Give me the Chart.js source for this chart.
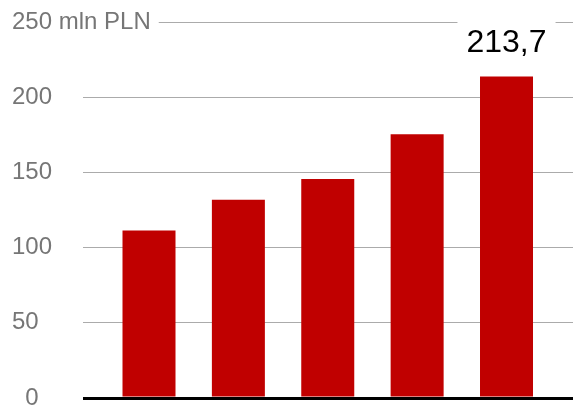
<!DOCTYPE html>
<html>
<head>
<meta charset="utf-8">
<script src="https://cdn.jsdelivr.net/npm/chart.js@4/dist/chart.umd.min.js"></script>
<style>
  html, body { margin: 0; padding: 0; background: #fff; }
  #wrap { width: 573px; height: 407px; }
</style>
</head>
<body>
<div id="wrap"><canvas id="myChart"></canvas></div>
<script>
// values (mln PLN)
let values = [111.3, 131.8, 145.6, 175.4, 213.7];
let yTicks = [0, 50, 100, 150, 200, 250];
let unit = "mln PLN";
let lastLabel = "213,7";

let points = values.map((v, i) => ({ x: i, y: v }));

// label above the last bar, with white box over the grid line
let lastBarLabel = {
  id: "lastBarLabel",
  afterDatasetsDraw(chart) {
    let meta = chart.getDatasetMeta(0);
    let bar = meta.data[meta.data.length - 1];
    let ctx = chart.ctx;
    ctx.save();
    ctx.font = "32px 'Liberation Sans', Arial, sans-serif";
    let w = ctx.measureText(lastLabel).width;
    let base = bar.y - 25;
    ctx.fillStyle = "#FFFFFF";
    ctx.fillRect(bar.x - w / 2 - 9, base - 34, w + 18, 40);
    ctx.fillStyle = "#000000";
    ctx.textAlign = "center";
    ctx.textBaseline = "alphabetic";
    ctx.fillText(lastLabel, bar.x, base);
    ctx.restore();
  },
};

let ctx = document.getElementById("myChart").getContext("2d");
let myChart = new Chart(ctx, {
  type: "bar",
  data: {
    datasets: [
      {
        data: points,
        backgroundColor: "#C00000",
        borderWidth: 0,
        categoryPercentage: 1,
        barPercentage: 0.593,
      },
    ],
  },
  options: {
    responsive: true,
    maintainAspectRatio: false,
    animation: false,
    layout: { padding: { left: 12, top: 22, right: 0, bottom: 9 } },
    plugins: {
      legend: { display: false },
      tooltip: { enabled: false },
    },
    scales: {
      x: {
        type: "linear",
        display: false,
        offset: false,
        min: -0.7385,
        max: 4.744,
        afterBuildTicks: (scale) => {
          scale.ticks = values.map((v, i) => ({ value: i }));
        },
      },
      y: {
        min: 0,
        max: 250,
        afterBuildTicks: (scale) => {
          scale.ticks = yTicks.map((v) => ({ value: v }));
        },
        afterFit: (scale) => {
          scale.width = 71;
          scale.paddingTop = 0;
          scale.paddingBottom = 0;
        },
        border: { display: false },
        grid: {
          drawTicks: false,
          color: (c) => (c.tick && c.tick.value === 0 ? "#000000" : "#ABABAB"),
          lineWidth: (c) => (c.tick && c.tick.value === 0 ? 3 : 1),
        },
        ticks: {
          mirror: true,
          padding: -71,
          color: "#767676",
          font: { family: "'Liberation Sans', Arial, sans-serif", size: 24 },
          showLabelBackdrop: true,
          backdropColor: "#FFFFFF",
          backdropPadding: { left: 0, right: 8, top: 0, bottom: 0 },
          callback: (v) => {
            if (v === 250) return v + " " + unit;
            if (v === 0) return "\u2007" + v;
            return "" + v;
          },
        },
      },
    },
  },
  plugins: [lastBarLabel],
});
</script>
</body>
</html>
